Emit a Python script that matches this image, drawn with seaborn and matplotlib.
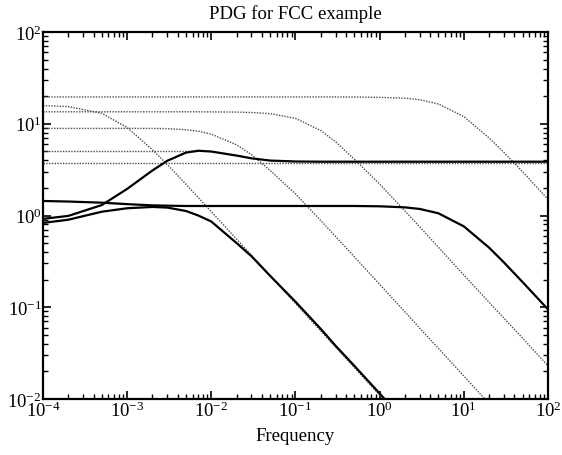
import numpy as np
import pandas as pd
import matplotlib
matplotlib.use("Agg")
import matplotlib.pyplot as plt
import seaborn as sns

# frequency grid the curves were read at
freq = [1e-4, 2e-4, 5e-4, 1e-3, 2e-3, 3e-3, 5e-3, 7e-3, 1e-2, 2e-2, 3e-2, 5e-2,
        0.1, 0.2, 0.3, 0.5, 1, 2, 3, 5, 10, 20, 30, 50, 100]
nan = np.nan

# dotted (gray) curves
dot_a = [19.6, 19.6, 19.6, 19.6, 19.6, 19.6, 19.6, 19.6, 19.6, 19.6, 19.6, 19.6,
         19.6, 19.6, 19.6, 19.56, 19.4, 19.0, 18.3, 16.4, 12.0, 7.0, 4.87, 3.0, 1.5]
dot_b = [13.5, 13.5, 13.5, 13.5, 13.5, 13.5, 13.5, 13.5, 13.47, 13.4, 13.27, 12.9,
         11.45, 8.43, 6.35, 4.11, 2.2, 1.12, 0.75, 0.45, 0.225, 0.113, 0.076, 0.046, 0.023]
dot_c = [8.9, 8.9, 8.9, 8.9, 8.9, 8.85, 8.6, 8.3, 7.7, 5.9, 4.6, 3.1,
         1.72, 0.88, 0.59, 0.355, 0.178, 0.089, 0.059, 0.0356, 0.0178, 0.0089, 0.0059, 0.0036, 0.0018]
dot_d = [5.05, 5.05, 5.05, 5.05, 5.05, 5.05, 5.05, 5.05, nan, nan, nan, nan,
         nan, nan, nan, nan, nan, nan, nan, nan, nan, nan, nan, nan, nan]
dot_e = [3.78] * 25
dot_f = [15.8, 15.4, 13.0, 9.1, 5.2, 3.59, 2.19, 1.57, 1.10, 0.552, 0.368, 0.221,
         0.110, 0.0552, 0.0368, 0.0221, 0.011, 0.0055, nan, nan, nan, nan, nan, nan, nan]

# solid (black) curves
sol_g = [0.92, 0.99, 1.3, 1.95, 3.1, 3.95, 4.85, 5.08, 4.98, 4.5, 4.2, 3.97,
         3.88, 3.86, 3.86, 3.86, 3.86, 3.86, 3.86, 3.86, 3.86, 3.86, 3.86, 3.86, 3.86]
sol_h = [1.44, 1.42, 1.38, 1.33, 1.29, 1.28, 1.27, 1.27, 1.27, 1.27, 1.27, 1.27,
         1.27, 1.27, 1.27, 1.27, 1.26, 1.227, 1.179, 1.057, 0.762, 0.446, 0.308, 0.188, 0.095]
sol_k = [0.83, 0.9, 1.1, 1.2, 1.24, 1.22, 1.12, 1.0, 0.86, 0.50, 0.36, 0.22,
         0.115, 0.058, 0.038, 0.023, 0.0115, 0.0057, nan, nan, nan, nan, nan, nan, nan]

dotted = [dot_a, dot_b, dot_c, dot_d, dot_e, dot_f]
solid = [sol_g, sol_h, sol_k]

sns.set_theme(style="ticks")
plt.rcParams["font.family"] = ["Liberation Serif", "DejaVu Serif"]
plt.rcParams["mathtext.fontset"] = "custom"
plt.rcParams["mathtext.rm"] = "Liberation Serif"

fig = plt.figure(figsize=(5.62, 4.56), dpi=100)
ax = fig.add_axes([0.0765, 0.1228, 0.8985, 0.8048])
ax.set(xscale="log", yscale="log")

for vals in dotted:
    df = pd.DataFrame({"f": freq, "v": vals}).dropna()
    sns.lineplot(data=df, x="f", y="v", ax=ax, color="#4d4d4d", lw=1.0,
                 linestyle=(0, (1, 1)), estimator=None)
for vals in solid:
    df = pd.DataFrame({"f": freq, "v": vals}).dropna()
    sns.lineplot(data=df, x="f", y="v", ax=ax, color="black", lw=1.6, estimator=None)

ax.set_xlim(1e-4, 1e2)
ax.set_ylim(1e-2, 1e2)
ax.set_title("PDG for FCC example", fontsize=13.5, color="black", pad=10)
ax.set_xlabel("Frequency", fontsize=13.5, color="black", labelpad=5)
ax.set_ylabel("")

for s in ax.spines.values():
    s.set_linewidth(1.6)
    s.set_color("black")
ax.tick_params(which="both", direction="in", top=True, right=True, colors="black",
               labelsize=13.5)
ax.tick_params(which="major", length=6, width=1.2, pad=1)
ax.tick_params(which="minor", length=3.5, width=1.0)

fig.savefig("out.png", dpi=100)
